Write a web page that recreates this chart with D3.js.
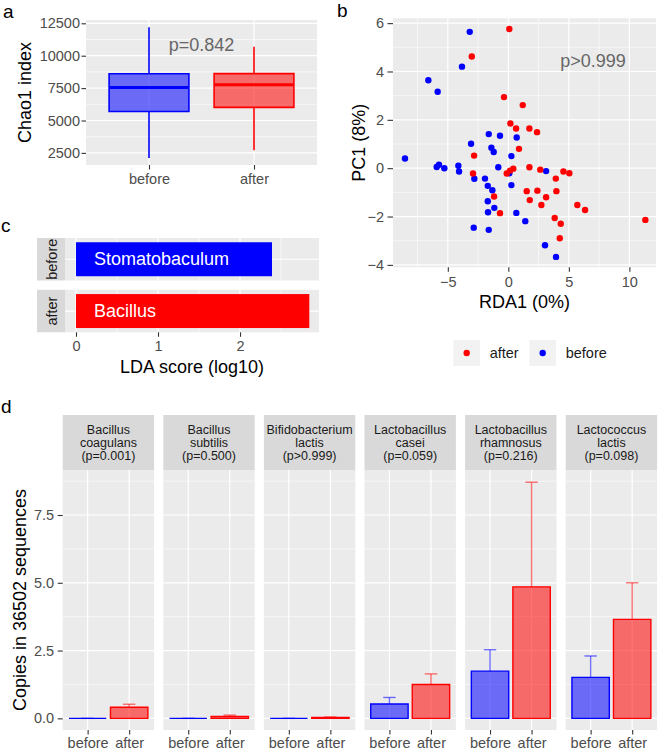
<!DOCTYPE html>
<html><head><meta charset="utf-8">
<script src="https://cdn.jsdelivr.net/npm/d3@7"></script>
<style>
body{margin:0;background:#fff}
text{font-family:"Liberation Sans",Arial,Helvetica,sans-serif}
</style>
</head><body>
<svg id="chart" width="658" height="750"></svg>
<script>
// ---------------- DATA ----------------
const groups = ["before", "after"];
const groupColors = ["#0000ff", "#ff0000"];

// Panel a: Chao1 boxplot stats [lower whisker, q1, median, q3, upper whisker]
const chaoBefore = [2110, 5700, 7550, 8610, 12190];
const chaoAfter  = [2710, 6010, 7760, 8620, 10690];
const chaoTicks  = [2500, 5000, 7500, 10000, 12500];
const chaoPText  = "p=0.842";

// Panel b: RDA scatter
const rdaBeforeX = [-3.19,-3.83,-6.61,-5.84,-1.62,-0.69,0.69,-3.08,-1.40,-1.21,0.25,-8.54,-0.83,-5.92,-5.73,-5.29,-4.13,-4.07,0.08,3.12,-2.81,-1.93,-1.70,-1.32,0.25,-1.70,-1.16,-1.68,0.66,1.40,-2.86,-1.62,3.03,3.94];
const rdaBeforeY = [5.64,4.20,3.64,3.16,1.41,1.34,1.27,1.01,0.85,0.67,0.50,0.40,0.04,0.05,0.14,0.00,0.10,-0.14,-0.21,-0.12,-0.44,-0.43,-0.73,-0.91,-0.70,-1.37,-1.64,-1.82,-1.85,-2.19,-2.46,-2.55,-3.19,-3.67];
const rdaAfterX  = [0.08,-3.02,-0.36,1.19,0.17,0.64,1.74,2.37,0.88,-2.83,0.41,0.14,-0.13,1.74,2.64,4.55,5.04,3.92,-2.92,1.52,2.40,3.97,3.12,1.77,-1.18,2.73,-0.69,5.70,6.34,3.83,4.33,4.25,11.32];
const rdaAfterY  = [5.76,4.62,2.94,2.61,1.85,1.64,1.64,1.49,0.80,0.52,-0.02,-0.10,-0.22,0.04,-0.06,-0.14,-0.21,-0.43,-0.22,-0.95,-0.93,-0.95,-1.20,-1.32,-1.17,-1.52,-1.86,-1.52,-1.73,-2.06,-2.30,-2.90,-2.14];
const rdaXTicks = [-5, 0, 5, 10];
const rdaYTicks = [-4, -2, 0, 2, 4, 6];
const rdaPText = "p>0.999";

// Panel c: LDA
const ldaGroups = ["before", "after"];
const ldaTaxa   = ["Stomatobaculum", "Bacillus"];
const ldaScores = [2.39, 2.845];
const ldaTicks  = [0, 1, 2];

// Panel d: species copies
const speciesGenus  = ["Bacillus", "Bacillus", "Bifidobacterium", "Lactobacillus", "Lactobacillus", "Lactococcus"];
const speciesName   = ["coagulans", "subtilis", "lactis", "casei", "rhamnosus", "lactis"];
const speciesP      = ["(p=0.001)", "(p=0.500)", "(p>0.999)", "(p=0.059)", "(p=0.216)", "(p=0.098)"];
const meanBefore    = [0, 0, 0, 0.53, 1.74, 1.51];
const meanAfter     = [0.41, 0.07, 0.03, 1.25, 4.85, 3.65];
const upperBefore   = [0, 0, 0, 0.77, 2.53, 2.30];
const upperAfter    = [0.52, 0.12, 0.05, 1.64, 8.71, 5.00];
const copiesTicks   = [0, 2.5, 5, 7.5];

// ---------------- HELPERS ----------------
const svg = d3.select("#chart");
const BG = "#ebebeb", STRIP = "#d9d9d9", TICKTXT = "#4d4d4d", TICKLN = "#333333";

function rect(x0, y0, x1, y1, fill) {
  svg.append("rect").attr("x", x0).attr("y", y0).attr("width", x1 - x0).attr("height", y1 - y0).attr("fill", fill);
}
function hGrid(vals, scale, x0, x1, w) {
  vals.forEach(v => svg.append("line").attr("x1", x0).attr("x2", x1)
    .attr("y1", scale(v)).attr("y2", scale(v)).attr("stroke", "#fff").attr("stroke-width", w));
}
function vGrid(vals, scale, y0, y1, w) {
  vals.forEach(v => svg.append("line").attr("y1", y0).attr("y2", y1)
    .attr("x1", scale(v)).attr("x2", scale(v)).attr("stroke", "#fff").attr("stroke-width", w));
}
function styleAxis(g, fs) {
  g.select(".domain").remove();
  g.selectAll(".tick line").attr("stroke", TICKLN).attr("stroke-width", 1.1);
  g.selectAll(".tick text").attr("fill", TICKTXT).attr("font-size", fs)
    .attr("font-family", '"Liberation Sans",Arial,sans-serif');
}
function label(txt, x, y, opts = {}) {
  const t = svg.append("text").attr("x", x).attr("y", y).text(txt)
    .attr("font-size", opts.size || 18).attr("fill", opts.fill || "#000")
    .attr("text-anchor", opts.anchor || "middle");
  if (opts.rotate) t.attr("transform", `rotate(${opts.rotate},${x},${y})`);
  if (opts.baseline) t.attr("dominant-baseline", opts.baseline);
  return t;
}
function boxPath(xl, xr, yt, yb) {
  return `M${xl},${yb}L${xl},${yt}L${xr},${yt}L${xr},${yb}Z`;
}

// ---------------- PANEL A ----------------
{
  const x0 = 86, x1 = 317, y0 = 20, y1 = 165;
  const y = d3.scaleLinear().domain([1566, 12755]).range([y1, y0]);
  const x = d3.scalePoint().domain(groups).range([x0, x1]).padding(0.6);
  rect(x0, y0, x1, y1, BG);
  hGrid([3750, 6250, 8750, 11250], y, x0, x1, 0.6);
  hGrid(chaoTicks, y, x0, x1, 1.2);
  vGrid(groups, x, y0, y1, 1.2);
  const hw = x.step() * 0.38;
  [chaoBefore, chaoAfter].forEach((s, i) => {
    const cx = x(groups[i]), col = groupColors[i];
    svg.append("line").attr("x1", cx).attr("x2", cx).attr("y1", y(s[4])).attr("y2", y(s[3])).attr("stroke", col).attr("stroke-width", 1.6);
    svg.append("line").attr("x1", cx).attr("x2", cx).attr("y1", y(s[1])).attr("y2", y(s[0])).attr("stroke", col).attr("stroke-width", 1.6);
    svg.append("path").attr("d", boxPath(cx - hw, cx + hw, y(s[3]), y(s[1])))
      .attr("fill", col).attr("fill-opacity", 0.55).attr("stroke", col).attr("stroke-width", 1.6);
    svg.append("line").attr("x1", cx - hw).attr("x2", cx + hw).attr("y1", y(s[2])).attr("y2", y(s[2])).attr("stroke", col).attr("stroke-width", 3);
  });
  label(chaoPText, (x("before") + x("after")) / 2, y(10330), {size: 18, fill: "#666"});
  const ga = svg.append("g").attr("transform", `translate(${x0},0)`)
    .call(d3.axisLeft(y).tickValues(chaoTicks).tickSize(4.5).tickPadding(1.5).tickFormat(d3.format("d")));
  styleAxis(ga, 14.5);
  const gb = svg.append("g").attr("transform", `translate(0,${y1})`)
    .call(d3.axisBottom(x).tickSize(4.5).tickPadding(4));
  styleAxis(gb, 14.5);
  label("Chao1 index", 25, (y0 + y1) / 2, {size: 18, rotate: -90, baseline: "central"});
  label("a", 3, 18, {size: 19, anchor: "start"});
}

// ---------------- PANEL B ----------------
{
  const x0 = 393, x1 = 656, y0 = 18.3, y1 = 267.3;
  const x = d3.scaleLinear().domain([-9.53, 12.2]).range([x0, x1]);
  const y = d3.scaleLinear().domain([-4.1, 6.2]).range([y1, y0]);
  rect(x0, y0, x1, y1, BG);
  hGrid([-3, -1, 1, 3, 5], y, x0, x1, 0.6);
  vGrid([-7.5, -2.5, 2.5, 7.5], x, y0, y1, 0.6);
  hGrid(rdaYTicks, y, x0, x1, 1.2);
  vGrid(rdaXTicks, x, y0, y1, 1.2);
  svg.append("g").selectAll("circle").data(rdaBeforeX).join("circle")
    .attr("cx", d => x(d)).attr("cy", (d, i) => y(rdaBeforeY[i])).attr("r", 3.2).attr("fill", groupColors[0]);
  svg.append("g").selectAll("circle").data(rdaAfterX).join("circle")
    .attr("cx", d => x(d)).attr("cy", (d, i) => y(rdaAfterY[i])).attr("r", 3.2).attr("fill", groupColors[1]);
  label(rdaPText, x(7.0), y(4.45), {size: 18, fill: "#666", baseline: "central"});
  const ga = svg.append("g").attr("transform", `translate(${x0},0)`)
    .call(d3.axisLeft(y).tickValues(rdaYTicks).tickSize(5.5).tickPadding(3.5).tickFormat(d3.format("d")));
  styleAxis(ga, 14.5);
  const gb = svg.append("g").attr("transform", `translate(0,${y1})`)
    .call(d3.axisBottom(x).tickValues(rdaXTicks).tickSize(4.5).tickPadding(4.5).tickFormat(d3.format("d")));
  styleAxis(gb, 14.5);
  label("PC1 (8%)", 359, (y0 + y1) / 2, {size: 18, rotate: -90, baseline: "central"});
  label("RDA1 (0%)", (x0 + x1) / 2, 308, {size: 18});
  label("b", 337, 17, {size: 19, anchor: "start"});
  // legend
  const legendOrder = [1, 0];
  const keyX = [466.7, 542.7];
  legendOrder.forEach((gi, k) => {
    svg.append("rect").attr("x", keyX[k] - 13.3).attr("y", 340).attr("width", 26.6).attr("height", 26)
      .attr("fill", "#f2f2f2");
    svg.append("circle").attr("cx", keyX[k]).attr("cy", 353).attr("r", 3.2).attr("fill", groupColors[gi]);
    label(groups[gi], keyX[k] + 23, 358, {size: 14.5, anchor: "start", fill: "#1a1a1a"});
  });
}

// ---------------- PANEL C ----------------
{
  const x0 = 65, x1 = 319, sx0 = 37;
  const x = d3.scaleLinear().domain([-0.134, 2.963]).range([x0, x1]);
  const rows = d3.scaleBand().domain(ldaGroups).range([238, 332.3]).paddingInner(0.18);
  ldaGroups.forEach((g, i) => {
    const top = rows(g), bw = rows.bandwidth(), bot = top + bw;
    rect(sx0, top, x0, bot, STRIP);
    rect(x0, top, x1, bot, BG);
    vGrid([0.5, 1.5, 2.5], x, top, bot, 0.6);
    vGrid(ldaTicks, x, top, bot, 1.2);
    svg.append("line").attr("x1", x0).attr("x2", x1).attr("y1", top + bw / 2).attr("y2", top + bw / 2)
      .attr("stroke", "#fff").attr("stroke-width", 1.2);
    const bh = bw * 0.8;
    svg.append("rect").attr("x", x(0)).attr("width", x(ldaScores[i]) - x(0))
      .attr("y", top + (bw - bh) / 2).attr("height", bh).attr("fill", groupColors[i]);
    label(ldaTaxa[i], x(0) + 18, top + bw / 2, {size: 18, anchor: "start", fill: "#fff", baseline: "central"});
    label(g, (sx0 + x0) / 2 + 1, top + bw / 2, {size: 14.5, fill: "#1a1a1a", rotate: -90, baseline: "central"});
  });
  const bottom = rows("after") + rows.bandwidth();
  const gb = svg.append("g").attr("transform", `translate(0,${bottom})`)
    .call(d3.axisBottom(x).tickValues(ldaTicks).tickSize(4.5).tickPadding(4).tickFormat(d3.format("d")));
  styleAxis(gb, 14.5);
  label("LDA score (log10)", (x0 + x1) / 2, 372.7, {size: 18});
  label("c", 1, 232, {size: 19, anchor: "start"});
}

// ---------------- PANEL D ----------------
{
  const sy0 = 415, y0 = 470, y1 = 730;
  const y = d3.scaleLinear().domain([-0.43, 9.16]).range([y1, y0]);
  const facets = d3.scaleBand().domain(d3.range(speciesGenus.length)).range([62.7, 657.1]).paddingInner(0.0915);
  speciesGenus.forEach((gen, i) => {
    const fx0 = facets(i), fx1 = fx0 + facets.bandwidth();
    const x = d3.scalePoint().domain(groups).range([fx0, fx1]).padding(0.6);
    rect(fx0, sy0, fx1, y0, STRIP);
    const cx = (fx0 + fx1) / 2;
    label(gen, cx, 434, {size: 12.5, fill: "#1a1a1a"});
    label(speciesName[i], cx, 447, {size: 12.5, fill: "#1a1a1a"});
    label(speciesP[i], cx, 460, {size: 12.5, fill: "#1a1a1a"});
    rect(fx0, y0, fx1, y1, BG);
    hGrid([1.25, 3.75, 6.25, 8.75], y, fx0, fx1, 0.6);
    hGrid(copiesTicks, y, fx0, fx1, 1.2);
    vGrid(groups, x, y0, y1, 1.2);
    const bw = x.step() * 0.9, cw = x.step() * 0.3;
    const means = [meanBefore[i], meanAfter[i]], ups = [upperBefore[i], upperAfter[i]];
    groups.forEach((g, k) => {
      const c = x(g), col = groupColors[k];
      // error bar (upper only)
      svg.append("line").attr("x1", c).attr("x2", c).attr("y1", y(means[k])).attr("y2", y(ups[k]))
        .attr("stroke", col).attr("stroke-opacity", 0.55).attr("stroke-width", 1.4);
      svg.append("line").attr("x1", c - cw / 2).attr("x2", c + cw / 2).attr("y1", y(ups[k])).attr("y2", y(ups[k]))
        .attr("stroke", col).attr("stroke-opacity", 0.55).attr("stroke-width", 1.4);
      svg.append("path").attr("d", boxPath(c - bw / 2, c + bw / 2, y(means[k]), y(0)))
        .attr("fill", col).attr("fill-opacity", 0.55).attr("stroke", col).attr("stroke-width", 1.4);
    });
    const gb = svg.append("g").attr("transform", `translate(0,${y1})`)
      .call(d3.axisBottom(x).tickSize(4.5).tickPadding(3));
    styleAxis(gb, 14.5);
  });
  const ga = svg.append("g").attr("transform", `translate(${facets(0)},0)`)
    .call(d3.axisLeft(y).tickValues(copiesTicks).tickSize(5).tickPadding(3.5).tickFormat(d3.format(".1f")));
  styleAxis(ga, 14.5);
  label("Copies in 36502 sequences", 20, (y0 + y1) / 2, {size: 18, rotate: -90, baseline: "central"});
  label("d", 1, 413, {size: 19, anchor: "start"});
}
</script>
</body></html>
